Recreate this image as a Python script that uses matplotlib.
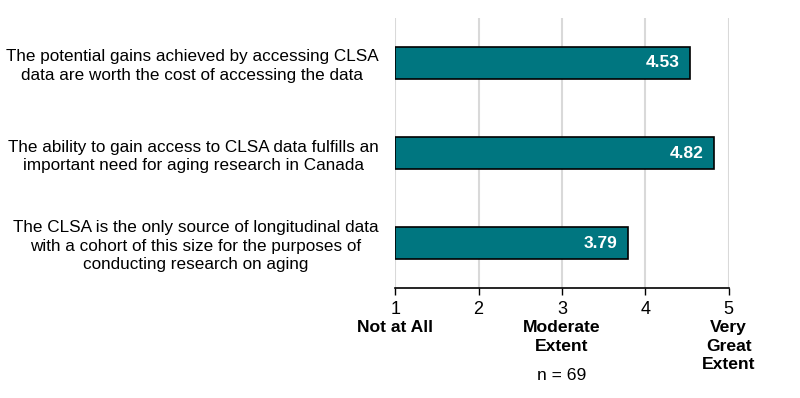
import matplotlib.pyplot as plt
import matplotlib.transforms as mtransforms

plt.rcParams['font.family'] = ['Liberation Sans', 'DejaVu Sans']

statements = ["The potential gains achieved by accessing CLSA\ndata are worth the cost of accessing the data",
              "The ability to gain access to CLSA data fulfills an\nimportant need for aging research in Canada",
              "The CLSA is the only source of longitudinal data\nwith a cohort of this size for the purposes of\nconducting research on aging"]
scores = [4.53, 4.82, 3.79]
ticks = [1, 2, 3, 4, 5]
anchors = {1: "Not at All", 3: "Moderate\nExtent", 5: "Very\nGreat\nExtent"}

fig = plt.figure(figsize=(8, 3.98), dpi=100)
ax = fig.add_axes([0.494, 0.276, 0.417, 0.679])

y_pos = list(range(len(statements)))
ax.barh(y_pos, [s - 1 for s in scores], left=1, height=0.36, color="#007680",
        edgecolor="black", linewidth=1.2, zorder=3)
for y, s in zip(y_pos, scores):
    ax.text(s - 0.12, y, f"{s:.2f}", color="white", fontweight="bold",
            fontsize=12.5, ha="right", va="center", zorder=4)

ax.set_xlim(1, 5)
ax.set_ylim(2.5, -0.5)
ax.set_xticks(ticks)
ax.set_xticklabels([str(t) for t in ticks], fontsize=13)
ax.set_yticks(y_pos)
ax.set_yticklabels(statements, fontsize=12.3, multialignment="center", linespacing=1.28)
ax.tick_params(axis="y", length=0, pad=12)
ax.tick_params(axis="x", length=5, width=1, pad=4)
ax.grid(axis="x", color="#d9d9d9", linewidth=1.5, zorder=0)
for side in ["top", "right", "left"]:
    ax.spines[side].set_visible(False)
ax.spines["bottom"].set_linewidth(1.2)

trans = mtransforms.blended_transform_factory(ax.transData, fig.transFigure)
for x, lab in anchors.items():
    ax.text(x, 1 - 320 / 398, lab, transform=trans, ha="center", va="top",
            fontsize=12.6, fontweight="bold", linespacing=1.3)
ax.text(3, 1 - 368 / 398, "n = 69", transform=trans, ha="center", va="top", fontsize=12.6)

fig.savefig("out.png", dpi=100)
